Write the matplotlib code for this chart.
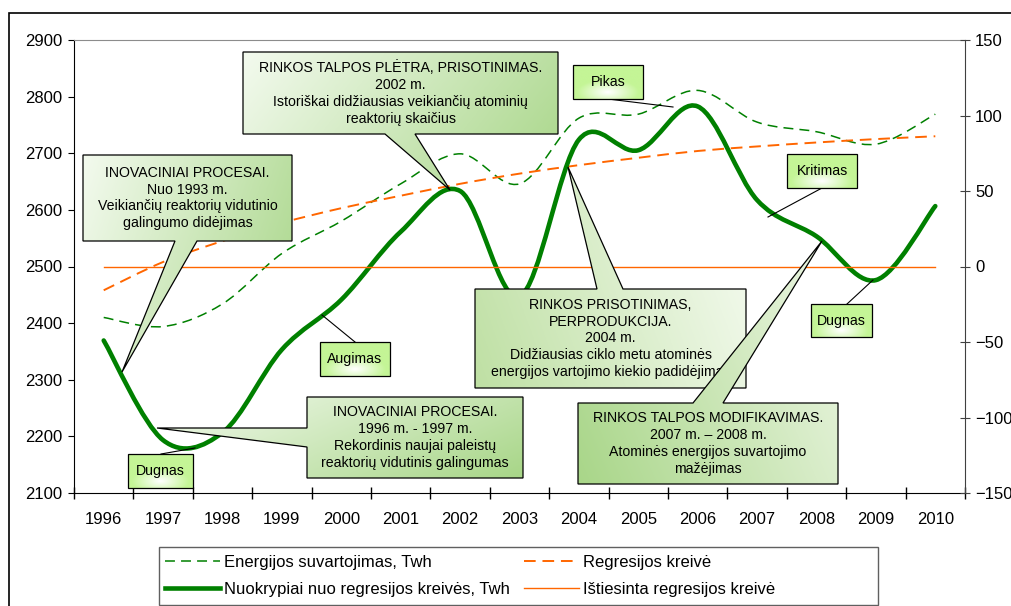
import numpy as np
import matplotlib.pyplot as plt
from matplotlib.path import Path
from matplotlib.patches import PathPatch, Rectangle, Polygon
from matplotlib.lines import Line2D
from matplotlib.colors import LinearSegmentedColormap

plt.rcParams['font.family'] = ['Liberation Sans', 'DejaVu Sans']

# Duomenys
years = np.arange(1996, 2011)
year_labels = [str(y) for y in years]
energy = [2410, 2394, 2434, 2523, 2580, 2646, 2699, 2646, 2762, 2769, 2811, 2755, 2738, 2716, 2769]
regression = [2458, 2508, 2545, 2577, 2603, 2625, 2646, 2664, 2679, 2692, 2704, 2712, 2719, 2725, 2730]
deviation = [-49, -115, -110, -55, -22, 23, 50, -20, 84, 77, 106, 44, 20, -9, 40]
straight = [0] * len(years)

W, H = 1011, 606


def smooth_path(x, y):
    # glotni kreivė (Catmull-Rom -> Bezier), kaip Excel
    x = np.asarray(x, float)
    y = np.asarray(y, float)
    px = np.concatenate([[x[0]], x, [x[-1]]])
    py = np.concatenate([[y[0]], y, [y[-1]]])
    verts = [(x[0], y[0])]
    codes = [Path.MOVETO]
    for i in range(len(x) - 1):
        c1 = (px[i + 1] + (px[i + 2] - px[i]) / 6, py[i + 1] + (py[i + 2] - py[i]) / 6)
        c2 = (px[i + 2] - (px[i + 3] - px[i + 1]) / 6, py[i + 2] - (py[i + 3] - py[i + 1]) / 6)
        verts += [c1, c2, (x[i + 1], y[i + 1])]
        codes += [Path.CURVE4] * 3
    return Path(verts, codes)


fig = plt.figure(figsize=(W / 100, H / 100), dpi=100)
ax = fig.add_axes([74 / W, 1 - 493 / H, (965 - 74) / W, (493 - 40) / H])
ax2 = ax.twinx()

green = '#008000'
orange = '#ff6600'

ax.add_patch(PathPatch(smooth_path(years, energy), fill=False, ec=green, lw=1.1,
                       ls=(0, (6.5, 4))))
ax.add_patch(PathPatch(smooth_path(years, regression), fill=False, ec=orange, lw=1.4,
                       ls=(0, (6, 3.5))))
ax2.plot(years, straight, color=orange, lw=1.0)
ax2.add_patch(PathPatch(smooth_path(years, deviation), fill=False, ec=green, lw=3.3,
                        capstyle='round', joinstyle='round'))

ax.set_xlim(1995.5, 2010.5)
ax.set_ylim(2100, 2900)
ax2.set_ylim(-150, 150)
ax.set_yticks(range(2100, 2901, 100))
ax2.set_yticks(range(-150, 151, 50))
ax.set_xticks(np.arange(1995.5, 2011, 1))
ax.set_xticklabels([])
ax.set_xticks(years, minor=True)
ax.set_xticklabels(year_labels, minor=True)

ax.tick_params(axis='x', which='major', direction='inout', length=8, width=1)
ax.tick_params(axis='x', which='minor', length=0, pad=14, labelsize=12)
ax.tick_params(axis='y', direction='out', length=4.5, pad=4, labelsize=12)
ax2.tick_params(axis='y', direction='inout', length=7.5, pad=3.5, labelsize=12, color='#404040')

ax.spines['top'].set_color('#8c8c8c')
ax.spines['right'].set_visible(False)
for s in ['left', 'bottom', 'top']:
    ax2.spines[s].set_visible(False)
ax2.spines['right'].set_color('#404040')

# išorinis rėmas
fig.add_artist(Rectangle((9 / W, -0.1), 1.1, 1 - 13 / H + 0.1, transform=fig.transFigure,
                         fill=False, ec='black', lw=1.2))

# legenda
handles = [
    Line2D([], [], color=green, lw=1.1, ls=(0, (6.5, 4))),
    Line2D([], [], color=green, lw=3.3),
    Line2D([], [], color=orange, lw=1.4, ls=(0, (6, 3.5))),
    Line2D([], [], color=orange, lw=1.0),
]
labels = ['Energijos suvartojimas, Twh', 'Nuokrypiai nuo regresijos kreivės, Twh',
          'Regresijos kreivė', 'Ištiesinta regresijos kreivė']
fig.legend(handles, labels, ncol=2, loc='upper left', bbox_to_anchor=(165 / W, 1 - 555 / H),
           frameon=False, fontsize=12, borderpad=0, borderaxespad=0, handlelength=3.3,
           handletextpad=0.25, columnspacing=0.85, labelspacing=0.7)
fig.add_artist(Rectangle((159 / W, 1 - 605 / H), (878 - 159) / W, (605 - 547) / H,
                         transform=fig.transFigure, fill=False, ec='#606060', lw=1.0))

# paaiškinimų sluoksnis (pikseliai)
ov = fig.add_axes([0, 0, 1, 1])
ov.set_zorder(5)
ov.patch.set_alpha(0)
ov.axis('off')

z = [10]


def gradient_shape(poly, c_from, c_to, dirv=(1, 0.3), radial=None):
    poly = np.asarray(poly, float)
    x0, y0 = poly.min(axis=0)
    x1, y1 = poly.max(axis=0)
    gx, gy = np.meshgrid(np.linspace(0, 1, 80), np.linspace(0, 1, 80))
    if radial is not None:
        t = np.hypot((gx - radial[0]) * 1.0, (gy - radial[1]) * 1.2)
        t = np.clip(t / t.max() * 2.4, 0, 1)
    else:
        t = dirv[0] * gx + dirv[1] * gy
        t = (t - t.min()) / (t.max() - t.min())
    cmap = LinearSegmentedColormap.from_list('g', [c_from, c_to])
    patch = Polygon(poly, closed=True, fc='none', ec='black', lw=0.9, zorder=z[0] + 1)
    ov.add_patch(patch)
    im = ov.imshow(t, cmap=cmap, extent=(x0, x1, y1, y0), origin='upper', aspect='auto',
                   zorder=z[0], interpolation='bilinear')
    im.set_clip_path(patch)
    z[0] += 3


def big_callout(rect, wedge, tip, text, c_from, c_to, dirv):
    x0, y0, x1, y1 = rect
    side, a, b = wedge
    if side == 'bottom':
        poly = [(x0, y0), (x1, y0), (x1, y1), (b, y1), tip, (a, y1), (x0, y1)]
    elif side == 'top':
        poly = [(x0, y0), (a, y0), tip, (b, y0), (x1, y0), (x1, y1), (x0, y1)]
    else:
        poly = [(x0, y0), (x1, y0), (x1, y1), (x0, y1), (x0, b), tip, (x0, a)]
    gradient_shape(poly, c_from, c_to, dirv)
    ov.text((x0 + x1) / 2, (y0 + y1) / 2, text, ha='center', va='center', fontsize=10.2,
            linespacing=1.25, zorder=z[0] - 1)


def small_callout(rect, start, tip, text):
    x0, y0, x1, y1 = rect
    ov.plot([start[0], tip[0]], [start[1], tip[1]], color='black', lw=0.8, zorder=z[0])
    poly = [(x0, y0), (x1, y0), (x1, y1), (x0, y1)]
    gradient_shape(poly, '#ffffff', '#c4f596', radial=(0.5, 0.8))
    ov.text((x0 + x1) / 2, (y0 + y1) / 2, text, ha='center', va='center', fontsize=10.2,
            zorder=z[0] - 1)


light = '#f3faee'
mid = '#a8d688'

big_callout((83, 155, 292, 241), ('bottom', 175, 197), (122, 372),
            'INOVACINIAI PROCESAI.\nNuo 1993 m.\nVeikiančių reaktorių vidutinio\ngalingumo didėjimas',
            light, mid, (1, 0.35))
big_callout((243, 52, 558, 134), ('bottom', 385, 415), (450, 190),
            'RINKOS TALPOS PLĖTRA, PRISOTINIMAS.\n2002 m.\nIstoriškai didžiausias veikiančių atominių\nreaktorių skaičius',
            light, mid, (1, 0.35))
big_callout((475, 289, 746, 388), ('top', 597, 623), (568, 167),
            'RINKOS PRISOTINIMAS,\nPERPRODUKCIJA.\n2004 m.\nDidžiausias ciklo metu atominės\nenergijos vartojimo kiekio padidėjimas',
            '#bfe0a4', '#f7fcf3', (1, -0.3))
big_callout((578, 403, 838, 484), ('top', 693, 723), (822, 241),
            'RINKOS TALPOS MODIFIKAVIMAS.\n2007 m. – 2008 m.\nAtominės energijos suvartojimo\nmažėjimas',
            '#a9d689', '#eef7e6', (1, -0.4))
big_callout((307, 397, 523, 478), ('left', 428, 447), (157, 428),
            'INOVACINIAI PROCESAI.\n1996 m. - 1997 m.\nRekordinis naujai paleistų\nreaktorių vidutinis galingumas',
            light, mid, (1, 0.5))

small_callout((573, 65, 643, 99), (608, 99), (673, 107), 'Pikas')
small_callout((787, 154, 857, 188), (822, 188), (768, 217), 'Kritimas')
small_callout((320, 342, 390, 376), (355, 342), (322, 315), 'Augimas')
small_callout((128, 454, 193, 488), (161, 454), (195, 448), 'Dugnas')
small_callout((811, 304, 872, 337), (847, 304), (873, 280), 'Dugnas')

ov.set_xlim(0, W)
ov.set_ylim(H, 0)

fig.savefig('out.png', dpi=100)
